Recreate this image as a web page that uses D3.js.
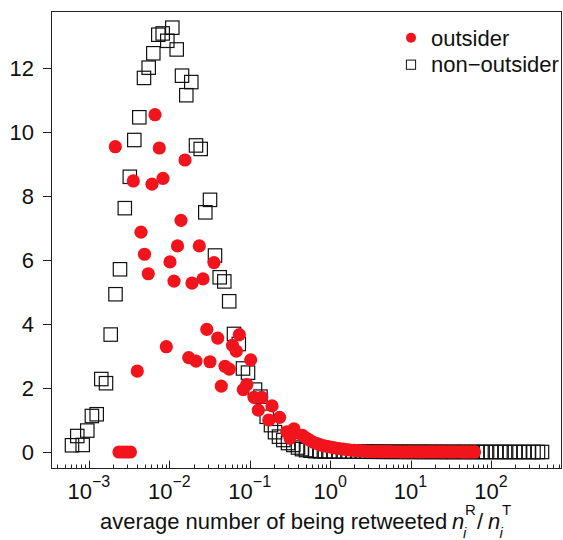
<!DOCTYPE html>
<html>
<head>
<meta charset="utf-8">
<script src="https://cdn.jsdelivr.net/npm/d3@7"></script>
<style>
  html, body { margin: 0; padding: 0; background: #fff; }
  svg { display: block; font-family: "Liberation Sans", Arial, Helvetica, sans-serif; }
</style>
</head>
<body>
<svg id="chart" width="563" height="540"></svg>
<script>
// ---- data -------------------------------------------------------------
// non-outsider users: average retweet ratio (x) vs. frequency (y)
const nonOutsiderX = [
  0.000616, 0.000717, 0.000837, 0.000955, 0.00109, 0.00125, 0.001426, 0.001632,
  0.001867, 0.002142, 0.002436, 0.002796, 0.003227, 0.00367, 0.004235, 0.004844,
  0.005541, 0.006324, 0.007297, 0.008276, 0.009443, 0.0109, 0.01236, 0.01439,
  0.01627, 0.01877, 0.02148, 0.02457, 0.02804, 0.03208, 0.03701, 0.04235,
  0.04831, 0.05559, 0.06377, 0.07316, 0.08253, 0.09526, 0.1164, 0.1362,
  0.1627, 0.184, 0.2064, 0.2314, 0.2618, 0.2995, 0.3485, 0.3988,
  0.4471, 0.5013, 0.5705, 0.6489, 0.749, 0.8642, 0.9829, 1.118,
  1.29, 1.489, 1.694, 1.927, 2.223, 2.566, 2.919, 3.32,
  3.831, 4.421, 5.029, 5.722, 6.602, 7.617, 8.666, 9.858,
  11.38, 13.13, 14.94, 16.99, 19.6, 22.62, 25.73, 29.27,
  33.78, 38.97, 44.35, 50.43, 58.21, 67.17, 76.4, 86.94,
  100.3, 115.7, 131.6, 149.8, 172.8, 199.4, 226.8, 258.0,
  297.8, 338.8, 385.2, 432.0
];
const nonOutsiderY = [
  0.21, 0.50, 0.22, 0.67, 1.125, 1.18, 2.28, 2.15,
  3.67, 4.93, 5.71, 7.62, 8.60, 9.75, 10.46, 11.69,
  12.01, 12.46, 13.04, 13.08, 12.85, 13.26, 12.58, 11.76,
  11.15, 11.56, 9.58, 9.47, 7.49, 7.88, 6.14, 5.46,
  5.33, 4.71, 3.69, 3.375, 2.61, 2.48, 1.95, 1.73,
  1.10, 0.84, 0.62, 0.48, 0.375, 0.28, 0.22, 0.14,
  0.09, 0.06, 0.04, 0.025, 0.02, 0.02, 0.015, 0.015,
  0.012, 0.012, 0.01, 0.01, 0.01, 0.01, 0.008, 0.008,
  0.008, 0.006, 0.006, 0.006, 0.005, 0.005, 0.005, 0.004,
  0.004, 0.004, 0.003, 0.003, 0.003, 0.003, 0.002, 0.002,
  0.002, 0.002, 0.002, 0.001, 0.001, 0.001, 0.001, 0.001,
  0.001, 0.001, 0.001, 0.001, 0.0, 0.0, 0.0, 0.0,
  0.0, 0.0, 0.0, 0.0
];

// outsider users
const outsiderX = [
  0.00213, 0.002368, 0.00264, 0.002943, 0.003282, 0.003566, 0.003999, 0.004446,
  0.004913, 0.005478, 0.006091, 0.006638, 0.007508, 0.008347, 0.009177, 0.0102,
  0.01144, 0.01265, 0.01398, 0.01568, 0.01743, 0.01915, 0.02148, 0.02361,
  0.02625, 0.02927, 0.03208, 0.03597, 0.03999, 0.04434, 0.04929, 0.05576,
  0.0611, 0.06813, 0.07425, 0.08323, 0.09203, 0.1029, 0.1131, 0.1279,
  0.1411, 0.1728, 0.1894, 0.2354, 0.2885, 0.3171, 0.3556, 0.4535,
  0.5013, 0.5544, 0.613, 0.6873, 0.7597, 0.8396, 0.9417, 1.056,
  1.167, 1.29, 1.447, 1.6, 1.768, 1.983, 2.192, 2.423,
  2.718, 3.003, 3.32, 3.67, 4.057, 4.55, 5.029, 5.559,
  6.234, 6.891, 7.617, 8.543, 9.443, 10.44, 11.71, 12.94,
  14.31, 16.04, 17.74, 19.6, 21.98, 24.3, 26.86, 30.12,
  33.3, 36.81, 41.29, 45.63, 50.43, 56.57, 62.52
];
const outsiderY = [
  9.54, 0, 0, 0, 0, 8.47, 2.53, 6.87,
  6.18, 5.57, 8.37, 10.54, 9.50, 8.55, 3.29, 5.94,
  5.34, 6.44, 7.24, 9.125, 2.95, 5.28, 2.84, 6.44,
  5.41, 3.83, 2.82, 5.92, 3.56, 2.06, 2.68, 2.59,
  3.33, 3.15, 3.67, 1.95, 2.11, 2.88, 1.71, 1.31,
  1.71, 1.0, 1.44, 1.08, 0.63, 0.43, 0.72, 0.52,
  0.44, 0.375, 0.31, 0.265, 0.22, 0.19, 0.17, 0.147,
  0.125, 0.11, 0.094, 0.078, 0.062, 0.053, 0.044, 0.034,
  0.028, 0.022, 0.016, 0.014, 0.012, 0.011, 0.01, 0.009,
  0.008, 0.008, 0.007, 0.007, 0.006, 0.006, 0.005, 0.005,
  0.005, 0.004, 0.004, 0.004, 0.003, 0.003, 0.003, 0.002,
  0.002, 0.002, 0.002, 0.001, 0.001, 0.001, 0.001
];

// axis labelling
const xTickExponents = [-3, -2, -1, 0, 1, 2];
const yTickValues = [0, 2, 4, 6, 8, 10, 12];
const seriesLabels = ["outsider", "non\u2212outsider"];

// ---- layout -----------------------------------------------------------
const plot = { left: 51, right: 562, top: 11, bottom: 469 };
const red = "#f2141c";
const ink = "#111";
const fontSize = 22;

const svg = d3.select("#chart");

const x = d3.scaleLog()
  .domain([Math.pow(10, -3.4714), Math.pow(10, 2.8843)])
  .range([plot.left, plot.right]);
const y = d3.scaleLinear()
  .domain([-0.53125, 13.78125])
  .range([plot.bottom, plot.top]);

// ---- points -----------------------------------------------------------
const nonOutsider = nonOutsiderX.map((v, i) => ({ x: v, y: nonOutsiderY[i] }));
const outsider = outsiderX.map((v, i) => ({ x: v, y: outsiderY[i] }));

const side = 13.4;
svg.append("g")
  .selectAll("rect")
  .data(nonOutsider)
  .join("rect")
  .attr("x", d => x(d.x) - side / 2)
  .attr("y", d => y(d.y) - side / 2)
  .attr("width", side)
  .attr("height", side)
  .attr("fill", "none")
  .attr("stroke", ink)
  .attr("stroke-width", 1.2);

svg.append("g")
  .selectAll("circle")
  .data(outsider)
  .join("circle")
  .attr("cx", d => x(d.x))
  .attr("cy", d => y(d.y))
  .attr("r", 6.6)
  .attr("fill", red);

// ---- frame ------------------------------------------------------------
svg.append("rect")
  .attr("x", plot.left + 0.5)
  .attr("y", plot.top + 0.5)
  .attr("width", plot.right - plot.left - 1)
  .attr("height", plot.bottom - plot.top - 1)
  .attr("fill", "none")
  .attr("stroke", "#222")
  .attr("stroke-width", 1);

// ---- x axis: ticks point inward from the bottom edge -------------------
const xAxisG = svg.append("g");
const bottomEdge = plot.bottom - 0.5;
x.ticks().forEach(t => {
  const major = Math.abs(Math.log10(t) - Math.round(Math.log10(t))) < 1e-9;
  const px = Math.round(x(t)) + 0.5;
  xAxisG.append("line")
    .attr("x1", px).attr("x2", px)
    .attr("y1", bottomEdge).attr("y2", bottomEdge - (major ? 8 : 4))
    .attr("stroke", "#222").attr("stroke-width", 1);
});

xTickExponents.forEach(e => {
  const t = xAxisG.append("text")
    .attr("x", x(Math.pow(10, e)))
    .attr("y", 499)
    .attr("text-anchor", "middle")
    .attr("font-size", fontSize)
    .attr("fill", ink);
  t.append("tspan").text("10");
  t.append("tspan")
    .attr("dy", -12)
    .attr("font-size", 16)
    .text(e < 0 ? "\u2212" + Math.abs(e) : String(e));
});

// ---- y axis: ticks point outward --------------------------------------
const yAxisG = svg.append("g");
yTickValues.forEach(v => {
  const py = Math.round(y(v)) + 0.5;
  yAxisG.append("line")
    .attr("x1", plot.left).attr("x2", plot.left - 8)
    .attr("y1", py).attr("y2", py)
    .attr("stroke", "#222").attr("stroke-width", 1);
  yAxisG.append("text")
    .attr("x", 34)
    .attr("y", y(v))
    .attr("dy", "0.35em")
    .attr("text-anchor", "end")
    .attr("font-size", fontSize)
    .attr("fill", ink)
    .text(v);
});

// ---- x axis title with n_i^R / n_i^T ---------------------------------
const title = svg.append("text")
  .attr("x", 100)
  .attr("y", 529)
  .attr("font-size", fontSize)
  .attr("fill", ink);
title.append("tspan").text("average number of being retweeted");
title.append("tspan").attr("x", 452).attr("y", 529).attr("font-style", "italic").text("n");
title.append("tspan").attr("x", 463).attr("y", 538).attr("font-size", 15).attr("font-style", "italic").text("i");
title.append("tspan").attr("x", 465).attr("y", 515).attr("font-size", 15).text("R");
title.append("tspan").attr("x", 477).attr("y", 529).text("/");
title.append("tspan").attr("x", 488).attr("y", 529).attr("font-style", "italic").text("n");
title.append("tspan").attr("x", 499.5).attr("y", 538).attr("font-size", 15).attr("font-style", "italic").text("i");
title.append("tspan").attr("x", 502).attr("y", 515).attr("font-size", 15).text("T");

// ---- legend -----------------------------------------------------------
const legend = svg.append("g");
legend.append("circle")
  .attr("cx", 411).attr("cy", 37.7).attr("r", 5)
  .attr("fill", red);
legend.append("rect")
  .attr("x", 411 - 4.6).attr("y", 64.7 - 4.6)
  .attr("width", 9.2).attr("height", 9.2)
  .attr("fill", "none").attr("stroke", ink).attr("stroke-width", 1);
legend.append("text")
  .attr("x", 431).attr("y", 45.5)
  .attr("font-size", fontSize).attr("fill", ink)
  .text(seriesLabels[0]);
legend.append("text")
  .attr("x", 431).attr("y", 71.7)
  .attr("font-size", fontSize).attr("fill", ink)
  .text(seriesLabels[1]);
</script>
</body>
</html>
